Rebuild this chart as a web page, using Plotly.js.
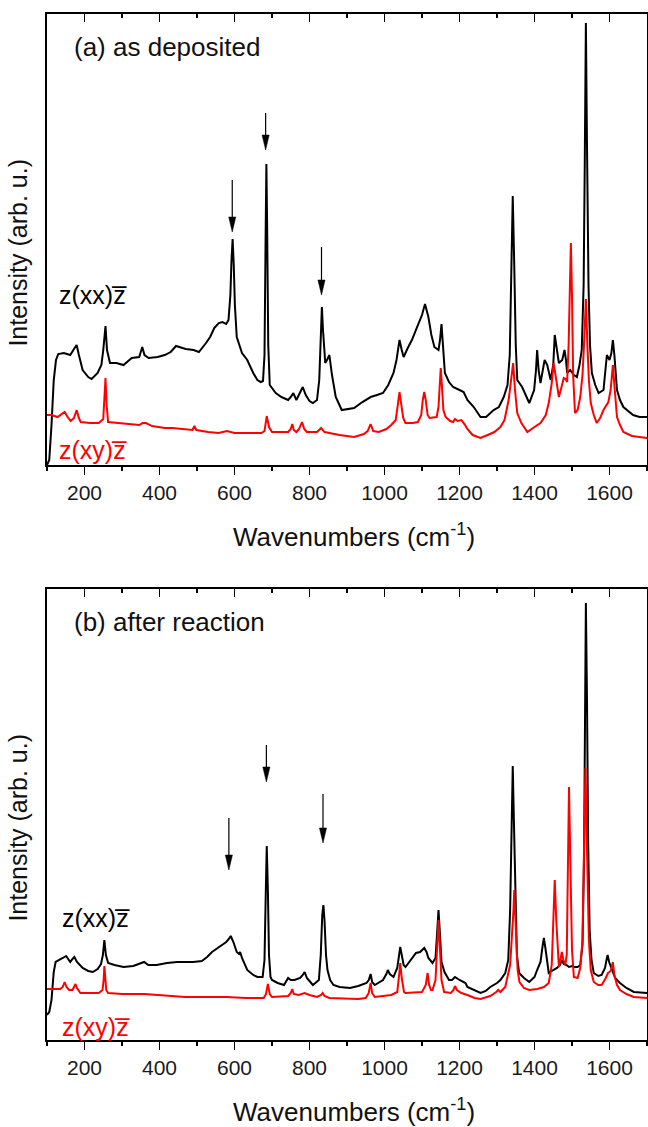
<!DOCTYPE html>
<html>
<head>
<meta charset="utf-8">
<script src="https://cdn.plot.ly/plotly-3.0.1.min.js"></script>
<style>html,body{margin:0;padding:0;background:#fff;}#chart{width:648px;height:1127px;}</style>
</head>
<body>
<div id="chart"></div>
<script>
// ---------- data (intensity in arbitrary units) ----------
// (a) as deposited, z(xx)z
var wnAxx = [100,106,112,118,124,130,145,162,172,179,185,195,210,219,235,245,250,256,260,268,285,304,326,346,354,360,371,395,414,430,444,470,491,505,524,535,546,558,568,578,584,589,592,595,598,601,606,620,634,650,661,670,676,680,683,685,687,690,694,710,725,743,750,757,765,775,782,790,800,809,820,826,830,833,836,842,848,853,860,870,886,900,919,941,963,980,996,1010,1024,1032,1040,1046,1051,1062,1073,1089,1100,1108,1117,1125,1133,1144,1148,1152,1156,1161,1172,1183,1200,1211,1221,1238,1256,1271,1291,1305,1318,1328,1334,1338,1342,1346,1350,1354,1367,1386,1399,1404,1407,1411,1416,1427,1434,1443,1450,1454,1459,1465,1474,1480,1484,1487,1495,1505,1513,1520,1526,1531,1534,1537,1540,1544,1548,1553,1562,1571,1584,1590,1593,1600,1605,1609,1613,1620,1628,1637,1650,1663,1680,1700];
var inAxx = [0,5,40,85,105,111,112,110,116,120,110,95,88,86,92,100,115,139,115,102,102,100,107,108,118,110,107,108,110,113,119,116,115,113,122,128,137,142,143,141,145,170,205,226,200,160,128,112,105,92,85,83,84,110,230,301,240,120,80,72,68,65,68,72,65,72,78,70,64,62,65,85,135,158,135,102,106,110,90,68,55,56,57,63,68,70,72,80,92,105,125,115,108,117,125,140,150,161,148,130,118,115,125,141,120,92,83,78,75,73,65,58,48,48,55,58,68,80,110,180,269,200,120,85,78,62,75,95,115,95,82,105,100,85,100,130,115,102,105,115,105,92,95,90,88,100,115,180,300,442,320,180,120,92,80,72,75,95,110,105,112,125,110,75,65,58,54,50,48,48];

// (a) as deposited, z(xy)z
var wnAxy = [100,112,128,140,147,155,163,172,179,185,190,215,238,250,253,256,259,263,290,320,346,355,364,380,414,434,470,488,493,498,530,557,580,600,634,672,680,686,692,700,743,750,754,758,765,772,780,786,793,820,831,840,853,880,919,945,955,963,970,985,1005,1018,1030,1036,1040,1045,1050,1056,1075,1089,1098,1102,1106,1110,1115,1120,1139,1144,1147,1150,1153,1157,1163,1175,1183,1188,1195,1205,1215,1221,1235,1256,1275,1293,1309,1320,1331,1338,1343,1348,1354,1365,1381,1400,1416,1430,1438,1446,1451,1456,1461,1465,1472,1478,1483,1487,1491,1494,1497,1500,1503,1508,1515,1522,1528,1532,1537,1541,1545,1550,1558,1566,1575,1584,1597,1603,1606,1609,1613,1617,1620,1628,1637,1660,1700];
var inAxy = [50,50,48,51,53,48,44,47,55,47,43,42,42,46,65,87,60,43,42,41,40,42,42,39,37,37,36,35,39,35,33,32,34,32,32,32,34,49,38,33,33,36,41,35,33,36,43,36,33,33,37,33,32,30,28,31,34,41,34,33,36,40,45,60,73,60,47,42,42,43,50,65,73,65,50,47,48,58,80,97,80,55,48,44,43,46,44,45,40,36,30,27,30,33,38,45,65,85,102,75,52,42,33,38,42,50,62,82,102,90,75,68,78,87,86,83,120,180,222,170,90,52,55,68,90,120,166,120,85,62,50,42,47,55,63,75,90,100,80,60,48,40,33,29,27];

// (b) after reaction, z(xx)z
var wnBxx = [100,106,112,118,123,134,142,151,157,162,168,173,180,195,210,222,235,244,249,253,257,263,280,304,330,345,359,370,392,420,447,470,490,513,527,540,555,568,578,585,590,597,606,612,615,620,634,650,661,675,680,683,686,689,692,696,700,715,732,743,750,760,775,782,787,793,809,825,830,834,837,840,844,848,855,864,880,908,930,952,958,963,967,974,996,1005,1009,1014,1024,1034,1039,1042,1046,1051,1056,1070,1084,1095,1106,1112,1117,1128,1136,1140,1144,1148,1152,1160,1172,1180,1188,1200,1216,1221,1240,1256,1270,1282,1300,1309,1322,1330,1335,1339,1342,1345,1349,1353,1359,1372,1386,1400,1407,1416,1422,1425,1429,1434,1438,1450,1460,1468,1473,1478,1485,1492,1500,1505,1515,1522,1528,1532,1535,1537,1540,1543,1547,1552,1558,1570,1579,1588,1592,1595,1599,1606,1615,1628,1645,1665,1700];
var inBxx = [25,28,40,68,78,80,82,84,81,78,81,83,78,72,69,68,71,76,85,100,85,77,75,73,74,76,78,75,75,77,78,78,78,79,83,88,92,96,98,101,104,98,88,86,88,82,70,65,63,63,80,140,194,150,85,63,60,57,55,62,60,60,62,65,68,62,55,60,85,125,135,120,85,70,60,55,53,52,54,57,60,66,58,55,60,66,70,66,63,72,85,93,85,75,73,80,87,88,92,88,82,77,82,105,130,105,78,68,60,60,63,60,57,53,50,47,49,53,57,60,67,80,130,210,274,220,130,85,67,62,58,63,70,78,95,102,92,80,67,70,72,75,80,76,75,73,74,73,73,75,95,180,330,437,340,200,110,80,67,64,65,72,80,85,78,70,62,57,52,48,47];

// (b) after reaction, z(xy)z
var wnBxy = [100,120,135,142,147,152,159,168,173,176,180,189,215,238,248,251,253,255,258,263,300,359,400,469,520,579,630,678,684,689,694,700,743,750,754,758,771,787,800,820,831,835,840,853,930,950,958,963,967,974,1018,1034,1039,1042,1046,1052,1056,1100,1110,1115,1119,1124,1128,1136,1140,1144,1148,1152,1159,1177,1184,1188,1193,1205,1221,1240,1256,1282,1298,1303,1309,1322,1335,1340,1344,1346,1350,1355,1360,1372,1386,1407,1425,1438,1446,1450,1454,1458,1462,1465,1469,1473,1477,1482,1486,1489,1492,1496,1500,1505,1515,1522,1528,1532,1536,1540,1545,1550,1558,1570,1579,1590,1596,1600,1604,1609,1613,1620,1628,1645,1665,1700];
var inBxy = [51,51,51,53,58,53,50,50,53,56,52,47,47,47,50,60,74,62,50,47,46,46,45,43,43,43,42,42,46,56,46,43,44,47,51,46,45,47,45,43,45,47,44,42,41,42,47,57,47,43,45,48,65,77,62,48,47,48,55,67,55,50,50,60,90,120,90,60,48,47,50,54,50,47,45,42,41,44,48,50,48,53,75,100,130,150,110,70,58,52,50,51,53,57,75,120,160,120,85,73,80,88,80,75,85,150,253,170,90,63,62,72,100,190,272,190,100,70,58,55,55,62,67,68,70,78,65,55,50,46,43,42];

// arrows: wavenumber, tail intensity, tip intensity
var arrowsA = {wn:[594,683,832], tail:[285,352,218], tip:[233,315,170]};
var arrowsB = {wn:[585,685,836], tail:[222,295,246], tip:[170,258,197]};

var xTicks = [200,400,600,800,1000,1200,1400,1600];
var xTickText = ['200','400','600','800','1000','1200','1400','1600'];
var xMinor = [100,300,500,700,900,1100,1300,1500,1700];

// ---------- figure ----------
var FONT = 'Liberation Sans, Arial, Helvetica, sans-serif';
var BLACK = '#000000', RED = '#ff0000';
var XR = [100,1700], YR = [0,451];

var traces = [
  {x:wnAxx, y:inAxx, xaxis:'x', yaxis:'y', mode:'lines', line:{color:BLACK,width:2}},
  {x:wnAxy, y:inAxy, xaxis:'x', yaxis:'y', mode:'lines', line:{color:RED,width:2}},
  {x:wnBxx, y:inBxx, xaxis:'x2', yaxis:'y2', mode:'lines', line:{color:BLACK,width:2}},
  {x:wnBxy, y:inBxy, xaxis:'x2', yaxis:'y2', mode:'lines', line:{color:RED,width:2}},
  {x:[], y:[], xaxis:'x3', yaxis:'y'},
  {x:[], y:[], xaxis:'x4', yaxis:'y2'}
];

function bottomAxis(anchor){
  return {
    anchor:anchor, domain:[0,1], range:XR, tickmode:'array', tickvals:xTicks, ticktext:xTickText,
    ticks:'outside', ticklen:8, tickwidth:1.5, tickcolor:BLACK,
    minor:{tickvals:xMinor, ticks:'outside', ticklen:4, tickwidth:1.5, tickcolor:BLACK},
    showline:true, linecolor:BLACK, linewidth:1.8, showgrid:false, zeroline:false,
    tickfont:{family:FONT, size:21, color:'#1a1a1a'}, fixedrange:true
  };
}
function topAxis(over, anchor){
  return {
    overlaying:over, anchor:anchor, side:'top', range:XR, tickmode:'array', tickvals:xTicks,
    ticks:'inside', ticklen:8, tickwidth:1.5, tickcolor:BLACK,
    minor:{tickvals:xMinor, ticks:'inside', ticklen:4, tickwidth:1.5, tickcolor:BLACK},
    showticklabels:false, showline:true, linecolor:BLACK, linewidth:1.8, showgrid:false, zeroline:false
  };
}
function yAxis(domain, anchor){
  return {domain:domain, anchor:anchor, range:YR, showline:true, mirror:true, linecolor:BLACK, linewidth:1.8,
          ticks:'', showticklabels:false, showgrid:false, zeroline:false};
}

var annotations = [];
function addPanelText(yr, label){
  annotations.push({xref:'paper', yref:yr, x:0.041, y:418, xanchor:'left', yanchor:'middle', showarrow:false,
    text:label, font:{family:FONT, size:26, color:'#111'}});
  annotations.push({xref:'paper', yref:yr, x:-0.049, y:212, xanchor:'center', yanchor:'middle', showarrow:false,
    textangle:-90, text:'Intensity (arb. u.)', font:{family:FONT, size:25, color:'#111'}});
  annotations.push({xref:'paper', yref:yr, x:0.512, y:0, yshift:-70, xanchor:'center', yanchor:'middle', showarrow:false,
    text:'Wavenumbers (cm<sup>-1</sup>)', font:{family:FONT, size:26, color:'#111'}});
}
addPanelText('y','(a) as deposited');
addPanelText('y2','(b) after reaction');

annotations.push({xref:'x', yref:'y', x:127, y:170, xanchor:'left', yanchor:'middle', showarrow:false,
  text:'z(xx)z\u0305', font:{family:FONT, size:25, color:BLACK}});
annotations.push({xref:'x', yref:'y', x:127, y:15, xanchor:'left', yanchor:'middle', showarrow:false,
  text:'z(xy)z\u0305', font:{family:FONT, size:25, color:RED}});
annotations.push({xref:'x2', yref:'y2', x:134, y:122, xanchor:'left', yanchor:'middle', showarrow:false,
  text:'z(xx)z\u0305', font:{family:FONT, size:25, color:BLACK}});
annotations.push({xref:'x2', yref:'y2', x:134, y:13, xanchor:'left', yanchor:'middle', showarrow:false,
  text:'z(xy)z\u0305', font:{family:FONT, size:25, color:RED}});

// arrows built from the arrow arrays (head 15 units tall, ~19 wavenumbers wide)
var shapes = [];
function addArrows(arr, xr, yr){
  for (var i=0;i<arr.wn.length;i++){
    var w = arr.wn[i], tip = arr.tip[i], tail = arr.tail[i];
    shapes.push({type:'line', xref:xr, yref:yr, x0:w, x1:w, y0:tail, y1:tip+12, line:{color:BLACK,width:1.2}});
    shapes.push({type:'path', xref:xr, yref:yr,
      path:'M'+(w-9.5)+','+(tip+15)+' L'+(w+9.5)+','+(tip+15)+' L'+w+','+tip+' Z',
      fillcolor:BLACK, line:{color:BLACK,width:0.5}});
  }
}
addArrows(arrowsA,'x','y');
addArrows(arrowsB,'x2','y2');

var layout = {
  width:648, height:1127,
  margin:{l:47, r:1, t:14, b:87},
  paper_bgcolor:'#ffffff', plot_bgcolor:'#ffffff',
  showlegend:false,
  xaxis: bottomAxis('y'),
  xaxis2: bottomAxis('y2'),
  xaxis3: topAxis('x','y'),
  xaxis4: topAxis('x2','y2'),
  yaxis: yAxis([0.5604,1],'x'),
  yaxis2: yAxis([0,0.4396],'x2'),
  annotations: annotations,
  shapes: shapes,
  font:{family:FONT}
};

Plotly.newPlot('chart', traces, layout, {displayModeBar:false, staticPlot:true});
</script>
</body>
</html>
